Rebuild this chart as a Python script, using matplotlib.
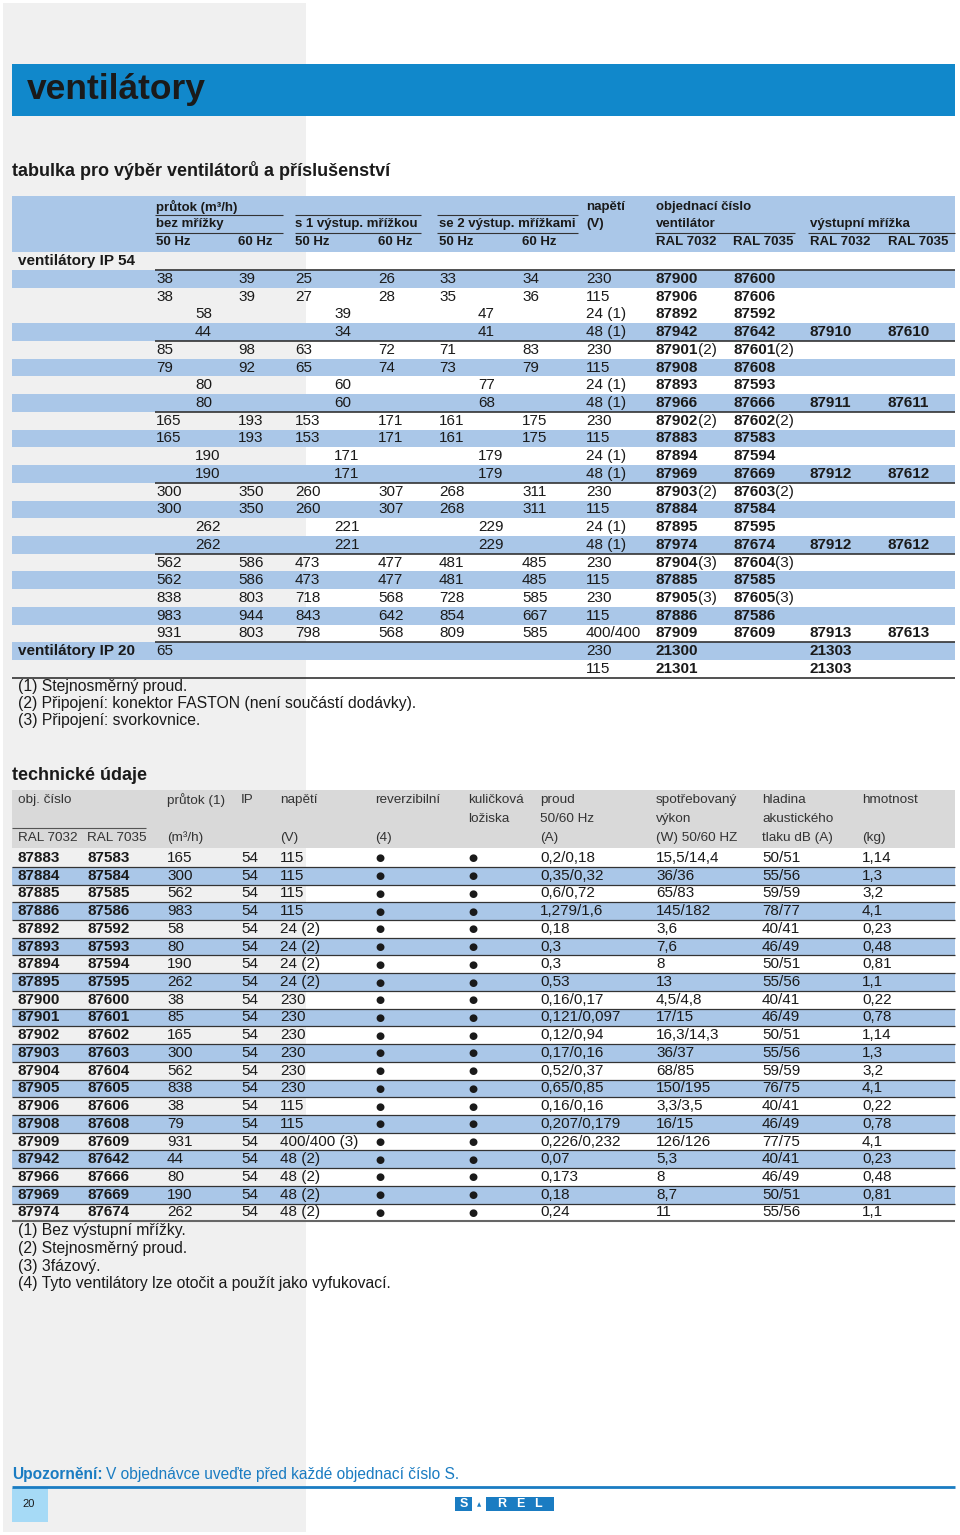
import re
import matplotlib
matplotlib.use("Agg")
import matplotlib.pyplot as plt
from matplotlib.patches import Rectangle

plt.rcParams['font.family'] = ['Liberation Sans', 'DejaVu Sans']

# --- tabulka pro vyber (IP 54) ---
t1_bez = [(38, 39), (38, 39), 58, 44, (85, 98), (79, 92), 80, 80, (165, 193), (165, 193), 190, 190,
          (300, 350), (300, 350), 262, 262, (562, 586), (562, 586), (838, 803), (983, 944), (931, 803)]
t1_s1 = [(25, 26), (27, 28), 39, 34, (63, 72), (65, 74), 60, 60, (153, 171), (153, 171), 171, 171,
         (260, 307), (260, 307), 221, 221, (473, 477), (473, 477), (718, 568), (843, 642), (798, 568)]
t1_s2 = [(33, 34), (35, 36), 47, 41, (71, 83), (73, 79), 77, 68, (161, 175), (161, 175), 179, 179,
         (268, 311), (268, 311), 229, 229, (481, 485), (481, 485), (728, 585), (854, 667), (809, 585)]
t1_volt = ['230', '115', '24 (1)', '48 (1)', '230', '115', '24 (1)', '48 (1)', '230', '115', '24 (1)', '48 (1)',
           '230', '115', '24 (1)', '48 (1)', '230', '115', '230', '115', '400/400']
t1_vent32 = ['87900', '87906', '87892', '87942', '87901(2)', '87908', '87893', '87966', '87902(2)', '87883',
             '87894', '87969', '87903(2)', '87884', '87895', '87974', '87904(3)', '87885', '87905(3)', '87886', '87909']
t1_vent35 = ['87600', '87606', '87592', '87642', '87601(2)', '87608', '87593', '87666', '87602(2)', '87583',
             '87594', '87669', '87603(2)', '87584', '87595', '87674', '87604(3)', '87585', '87605(3)', '87586', '87609']
t1_grid32 = ['', '', '', '87910', '', '', '', '87911', '', '', '', '87912', '', '', '', '87912', '', '', '', '', '87913']
t1_grid35 = ['', '', '', '87610', '', '', '', '87611', '', '', '', '87612', '', '', '', '87612', '', '', '', '', '87613']

# IP 20
ip20_flow = ['65', '']
ip20_volt = ['230', '115']
ip20_vent32 = ['21300', '21301']
ip20_grid32 = ['21303', '21303']

notes1 = ['(1) Stejnosměrný proud.',
          '(2) Připojení: konektor FASTON (není součástí dodávky).',
          '(3) Připojení: svorkovnice.']

# --- technicke udaje ---
t2_ral32 = ['87883', '87884', '87885', '87886', '87892', '87893', '87894', '87895', '87900', '87901', '87902',
            '87903', '87904', '87905', '87906', '87908', '87909', '87942', '87966', '87969', '87974']
t2_ral35 = ['87583', '87584', '87585', '87586', '87592', '87593', '87594', '87595', '87600', '87601', '87602',
            '87603', '87604', '87605', '87606', '87608', '87609', '87642', '87666', '87669', '87674']
t2_flow = ['165', '300', '562', '983', '58', '80', '190', '262', '38', '85', '165', '300', '562', '838', '38', '79',
           '931', '44', '80', '190', '262']
t2_ip = ['54'] * 21
t2_volt = ['115', '115', '115', '115', '24 (2)', '24 (2)', '24 (2)', '24 (2)', '230', '230', '230', '230', '230',
           '230', '115', '115', '400/400 (3)', '48 (2)', '48 (2)', '48 (2)', '48 (2)']
t2_rev = [True] * 21
t2_bear = [True] * 21
t2_curr = ['0,2/0,18', '0,35/0,32', '0,6/0,72', '1,279/1,6', '0,18', '0,3', '0,3', '0,53', '0,16/0,17',
           '0,121/0,097', '0,12/0,94', '0,17/0,16', '0,52/0,37', '0,65/0,85', '0,16/0,16', '0,207/0,179',
           '0,226/0,232', '0,07', '0,173', '0,18', '0,24']
t2_power = ['15,5/14,4', '36/36', '65/83', '145/182', '3,6', '7,6', '8', '13', '4,5/4,8', '17/15', '16,3/14,3',
            '36/37', '68/85', '150/195', '3,3/3,5', '16/15', '126/126', '5,3', '8', '8,7', '11']
t2_noise = ['50/51', '55/56', '59/59', '78/77', '40/41', '46/49', '50/51', '55/56', '40/41', '46/49', '50/51',
            '55/56', '59/59', '76/75', '40/41', '46/49', '77/75', '40/41', '46/49', '50/51', '55/56']
t2_weight = ['1,14', '1,3', '3,2', '4,1', '0,23', '0,48', '0,81', '1,1', '0,22', '0,78', '1,14', '1,3', '3,2',
             '4,1', '0,22', '0,78', '4,1', '0,23', '0,48', '0,81', '1,1']

notes2 = ['(1) Bez výstupní mřížky.', '(2) Stejnosměrný proud.', '(3) 3fázový.',
          '(4) Tyto ventilátory lze otočit a použít jako vyfukovací.']

# barvy
BLUE_ROW = '#aac7e8'
GREY_BG = '#f0f0f0'
TITLE_BLUE = '#1188cb'
TXT = '#1a1a1a'
LINE = '#333333'

W, H = 960, 1535
fig = plt.figure(figsize=(W / 100, H / 100), dpi=100)
ax = fig.add_axes([0, 0, 1, 1])
ax.set_xlim(0, W)
ax.set_ylim(H, 0)
ax.axis('off')
renderer = fig.canvas.get_renderer()


def rect(x0, y0, x1, y1, color, z=0):
    ax.add_patch(Rectangle((x0, y0), x1 - x0, y1 - y0, color=color, lw=0, zorder=z))


def hline(y, x0, x1, lw=1.0, color=LINE):
    ax.plot([x0, x1], [y, y], color=color, lw=lw, solid_capstyle='butt', zorder=3)


def txt(x, y, s, size=11, bold=False, color=TXT, **kw):
    return ax.text(x, y, s, fontsize=size, fontweight='bold' if bold else 'normal', color=color,
                   va='center', ha='left', zorder=4, **kw)


def order_no(x, y, s, size=11):
    # cislo tucne, poznamka (2) obycejne hned za nim
    m = re.match(r'(\d+)(\(\d\))?', s)
    t = txt(x, y, m.group(1), size=size, bold=True)
    if m.group(2):
        bb = t.get_window_extent(renderer).transformed(ax.transData.inverted())
        txt(bb.x1, y, m.group(2), size=size)


def dot(x, y):
    ax.text(x, y + 0.5, '●', fontsize=7.5, color=TXT, ha='center', va='center', zorder=4,
            family=['DejaVu Sans'])


# pozadi
rect(3, 3, 306, 1532, GREY_BG)
rect(12, 64, 955, 116, TITLE_BLUE, 1)
txt(27, 89, 'ventilátory', size=25.5, bold=True)
txt(12, 170, 'tabulka pro výběr ventilátorů a příslušenství', size=13, bold=True)

# ---------- tabulka 1 ----------
rect(12, 196, 955, 252, BLUE_ROW, 1)
hs = 9.5
h1, h2, h3 = 207, 224, 242
txt(156, h1, 'průtok (m³/h)', hs, True)
txt(586, h1, 'napětí', hs, True)
txt(656, h1, 'objednací číslo', hs, True)
txt(156, h2, 'bez mřížky', hs, True)
txt(295, h2, 's 1 výstup. mřížkou', hs, True)
txt(439, h2, 'se 2 výstup. mřížkami', hs, True)
txt(586, h2, '(V)', hs, True)
txt(656, h2, 'ventilátor', hs, True)
txt(810, h2, 'výstupní mřížka', hs, True)
for x, lab in zip([156, 238, 295, 378, 439, 522], ['50 Hz', '60 Hz'] * 3):
    txt(x, h3, lab, hs, True)
for x, lab in zip([656, 733, 810, 888], ['RAL 7032', 'RAL 7035'] * 2):
    txt(x, h3, lab, hs, True)
for a, b in [(155, 283), (295, 421), (437, 578)]:
    hline(215, a, b, 0.8)
    hline(233, a, b, 0.8)
hline(233, 655, 795, 0.8)
hline(233, 808, 955, 0.8)

rh = 17.72
y0 = 279
txt(18, y0 - rh, 'ventilátory IP 54', 11, True)
pair_x = [(156, 238), (295, 378), (439, 522)]
single_x = [195, 334, 478]
n1 = len(t1_volt)
for i in range(n1):
    y = y0 + i * rh
    if i == 0 or (i >= 3 and i % 2 == 1):
        rect(12, y - rh / 2, 955, y + rh / 2, BLUE_ROW, 1)
    for k, col in enumerate([t1_bez, t1_s1, t1_s2]):
        v = col[i]
        if isinstance(v, tuple):
            txt(pair_x[k][0], y, str(v[0]))
            txt(pair_x[k][1], y, str(v[1]))
        else:
            txt(single_x[k], y, str(v))
    txt(586, y, t1_volt[i])
    order_no(656, y, t1_vent32[i])
    order_no(733, y, t1_vent35[i])
    if t1_grid32[i]:
        order_no(810, y, t1_grid32[i])
        order_no(888, y, t1_grid35[i])
    if i % 4 == 0 and i <= 16:
        hline(y - rh / 2, 155, 955, 1.2)
hline(y0 + (n1 - 0.5) * rh, 155, 955, 1.2)

for j in range(len(ip20_volt)):
    y = y0 + (n1 + j) * rh
    if j == 0:
        rect(12, y - rh / 2, 955, y + rh / 2, BLUE_ROW, 1)
        txt(18, y, 'ventilátory IP 20', 11, True)
    if ip20_flow[j]:
        txt(156, y, ip20_flow[j])
    txt(586, y, ip20_volt[j])
    order_no(656, y, ip20_vent32[j])
    order_no(810, y, ip20_grid32[j])
yb = y0 + (n1 + 1.5) * rh
hline(yb, 12, 955, 1.2)
for k, s in enumerate(notes1):
    txt(18, 686 + k * 17.5, s, 11.3)

# ---------- tabulka 2 ----------
txt(12, 776, 'technické údaje', 13, True)
rect(12, 790, 955, 848, '#d9d9d9', 1)
hc = '#333333'
hs2 = 9.7
r1, r2, r3 = 800, 819, 838
head2 = [
    (18, ['obj. číslo', '', 'RAL 7032']),
    (87, ['', '', 'RAL 7035']),
    (167, ['průtok (1)', '', '(m³/h)']),
    (241, ['IP', '', '']),
    (280, ['napětí', '', '(V)']),
    (375, ['reverzibilní', '', '(4)']),
    (468, ['kuličková', 'ložiska', '']),
    (540, ['proud', '50/60 Hz', '(A)']),
    (656, ['spotřebovaný', 'výkon', '(W) 50/60 HZ']),
    (762, ['hladina', 'akustického', 'tlaku dB (A)']),
    (862, ['hmotnost', '', '(kg)']),
]
for x, labs in head2:
    for yy, lab in zip([r1, r2, r3], labs):
        if lab:
            txt(x, yy, lab, hs2, color=hc)
hline(828, 12, 146, 0.8, '#555555')

y2 = 858
n2 = len(t2_ral32)
for i in range(n2):
    y = y2 + i * rh
    if i % 2 == 1:
        rect(12, y - rh / 2, 955, y + rh / 2, BLUE_ROW, 1)
        hline(y - rh / 2, 12, 955, 0.9)
        hline(y + rh / 2, 12, 955, 0.9)
    txt(18, y, t2_ral32[i], bold=True)
    txt(87, y, t2_ral35[i], bold=True)
    txt(167, y, t2_flow[i])
    txt(241, y, t2_ip[i])
    txt(280, y, t2_volt[i])
    if t2_rev[i]:
        dot(380, y)
    if t2_bear[i]:
        dot(473, y)
    txt(540, y, t2_curr[i])
    txt(656, y, t2_power[i])
    txt(762, y, t2_noise[i])
    txt(862, y, t2_weight[i])
hline(y2 + (n2 - 0.5) * rh, 12, 955, 1.5, '#666666')
for k, s in enumerate(notes2):
    txt(18, 1231 + k * 17.5, s, 11.3)

# ---------- pata ----------
FOOT_BLUE = '#1a7cc2'
t = txt(12, 1474, 'Upozornění:', 11.2, True, FOOT_BLUE)
bb = t.get_window_extent(renderer).transformed(ax.transData.inverted())
txt(bb.x1 + 3, 1474, 'V objednávce uveďte před každé objednací číslo S.', 11.2, False, FOOT_BLUE)
hline(1487, 12, 955, 2.0, FOOT_BLUE)
rect(12, 1488, 48, 1522, '#a6daf6', 1)
txt(22, 1504, '20', 8)
# logo SAREL
rect(455, 1497, 472, 1511, FOOT_BLUE, 1)
ax.text(463.5, 1504, 'S', fontsize=9, fontweight='bold', color='white', ha='center', va='center', zorder=4)
ax.text(479.5, 1505, '▲', fontsize=4, color=FOOT_BLUE, ha='center', va='center', zorder=4, family=['DejaVu Sans'])
rect(486, 1497, 554, 1511, FOOT_BLUE, 1)
for x, ch in zip([502, 520, 538], 'REL'):
    ax.text(x, 1504, ch, fontsize=9, fontweight='bold', color='white', ha='center', va='center', zorder=4)

fig.savefig('out.png', dpi=100)
